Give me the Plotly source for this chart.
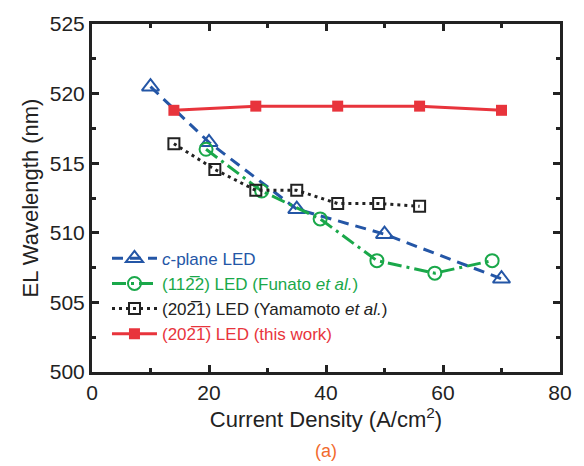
import plotly.graph_objects as go

# c-plane LED
cplane_x = [10, 20, 35, 50, 70]
cplane_y = [520.5, 516.5, 511.7, 509.9, 506.7]
# (11-22) LED (Funato et al.)
funato_x = [19.5, 29, 39, 48.7, 58.6, 68.4]
funato_y = [516.0, 513.0, 511.0, 508.0, 507.1, 508.0]
# (20-21) LED (Yamamoto et al.)
yama_x = [14, 21, 28, 35, 42, 49, 56]
yama_y = [516.4, 514.55, 513.05, 513.05, 512.1, 512.1, 511.9]
# (20-2-1) LED (this work)
this_x = [14, 28, 42, 56, 70]
this_y = [518.8, 519.1, 519.1, 519.1, 518.8]

BLUE = "#2456a6"
GREEN = "#1aa84a"
BLACK = "#222222"
RED = "#e8343c"
OB = "\u0305"
FONT = "Liberation Sans, Arial, sans-serif"

fig = go.Figure()
fig.add_trace(go.Scatter(
    x=cplane_x, y=cplane_y, mode="lines+markers",
    name=f'<span style="color:{BLUE}"><i>c</i>-plane LED</span>',
    line=dict(color=BLUE, width=3, dash="11px,7px"),
    marker=dict(symbol="triangle-up-open", size=15, color=BLUE, line=dict(width=2, color=BLUE)),
))
fig.add_trace(go.Scatter(
    x=funato_x, y=funato_y, mode="lines+markers",
    name=f'<span style="color:{GREEN}">(112{OB}2) LED (Funato <i>et al.</i>)</span>',
    line=dict(color=GREEN, width=3, dash="14px,5px,3px,5px"),
    marker=dict(symbol="circle-open", size=13, color=GREEN, line=dict(width=2, color=GREEN)),
))
fig.add_trace(go.Scatter(
    x=yama_x, y=yama_y, mode="lines+markers",
    name=f'<span style="color:{BLACK}">(202{OB}1) LED (Yamamoto <i>et al.</i>)</span>',
    line=dict(color=BLACK, width=3, dash="3px,4px"),
    marker=dict(symbol="square-open", size=11, color=BLACK, line=dict(width=2, color=BLACK)),
))
fig.add_trace(go.Scatter(
    x=this_x, y=this_y, mode="lines+markers",
    name=f'<span style="color:{RED}">(202{OB}1{OB}) LED (this work)</span>',
    line=dict(color=RED, width=3),
    marker=dict(symbol="square", size=11, color=RED),
))

axis_common = dict(
    showline=True, linecolor=BLACK, linewidth=3, mirror="allticks",
    ticks="inside", ticklen=7, tickwidth=3, tickcolor=BLACK,
    showgrid=False, zeroline=False,
    tickfont=dict(family=FONT, size=21, color=BLACK),
)

fig.update_xaxes(
    range=[0, 80], dtick=20, tick0=0,
    minor=dict(ticks="inside", dtick=10, ticklen=4, tickwidth=3, tickcolor=BLACK, showgrid=False),
    title=dict(text="Current Density (A/cm<sup>2</sup>)", font=dict(family=FONT, size=22, color=BLACK), standoff=1),
    **axis_common,
)
fig.update_yaxes(
    range=[500, 525], dtick=5, tick0=500,
    minor=dict(ticks="inside", dtick=2.5, ticklen=4, tickwidth=3, tickcolor=BLACK, showgrid=False),
    title=dict(text="EL Wavelength (nm)", font=dict(family=FONT, size=22, color=BLACK), standoff=6),
    **axis_common,
)

fig.add_annotation(
    text="(a)", xref="paper", yref="paper", x=0.5, y=-0.228, yanchor="middle",
    showarrow=False, font=dict(family=FONT, size=18, color="#f26b2e"),
)

fig.update_layout(
    width=584, height=466,
    margin=dict(l=92, r=22, t=21, b=94),
    paper_bgcolor="white", plot_bgcolor="white",
    font=dict(family=FONT, color=BLACK),
    showlegend=True,
    legend=dict(
        x=0.032, y=0.377, xanchor="left", yanchor="top",
        bgcolor="rgba(0,0,0,0)", font=dict(size=17, family=FONT),
        itemwidth=45, tracegroupgap=0,
    ),
)

fig.write_html("out.html", post_script="document.body.style.margin='0';",
               config={"displayModeBar": False})
